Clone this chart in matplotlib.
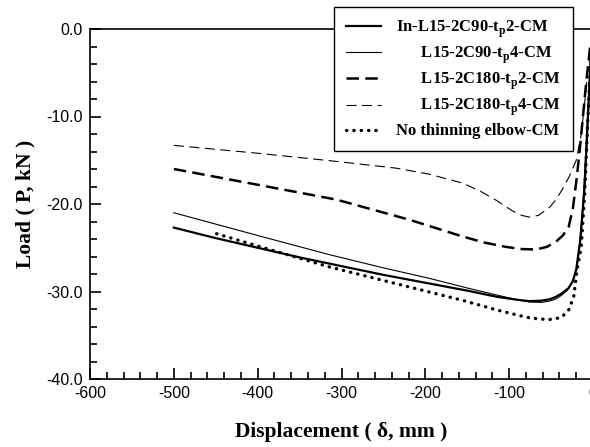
import matplotlib
matplotlib.use("Agg")
import matplotlib.pyplot as plt
from matplotlib.ticker import MultipleLocator, FormatStrFormatter

plt.rcParams["axes.unicode_minus"] = False

x_in_c90_t2 = [-500, -450, -400, -350, -300, -250, -200, -150, -115, -90, -76, -62, -52, -44, -37, -29, -24, -20, -15, -10, -6, -3, 0]
y_in_c90_t2 = [-22.7, -23.9, -25.0, -26.1, -27.1, -28.1, -29.0, -29.9, -30.6, -30.95, -31.1, -31.05, -30.9, -30.6, -30.2, -29.6, -28.8, -27.5, -24.0, -18.0, -10.0, -4.0, 0.0]

x_c90_t4 = [-500, -400, -314, -250, -195, -150, -115, -90, -76, -62, -52, -44, -37, -30, -25, -20, -17, -12, -8, -4, 0]
y_c90_t4 = [-21.0, -23.6, -25.8, -27.3, -28.5, -29.6, -30.4, -30.95, -31.2, -31.25, -31.1, -30.85, -30.4, -29.8, -29.0, -27.5, -25.6, -20.0, -13.0, -5.0, 0.0]

x_c180_t2 = [-500, -400, -306, -219, -156, -130, -104, -85, -68, -55, -44, -36, -29, -24, -20, -16, -12, -8, -4, 0]
y_c180_t2 = [-16.0, -17.8, -19.5, -21.8, -23.7, -24.4, -24.9, -25.15, -25.2, -24.9, -24.3, -23.6, -22.6, -20.5, -17.5, -14.0, -10.0, -6.0, -2.5, 0.0]

x_c180_t4 = [-500, -400, -314, -235, -195, -156, -135, -115, -96, -85, -76, -65, -52, -45, -37, -28, -20, -14, -10, -6, -3, 0]
y_c180_t4 = [-13.3, -14.2, -15.05, -15.9, -16.6, -17.6, -18.5, -19.6, -20.8, -21.3, -21.5, -21.3, -20.4, -19.6, -18.4, -16.8, -15.0, -12.0, -8.5, -4.5, -2.0, 0.0]

x_nothin = [-449, -400, -350, -314, -235, -156, -115, -90, -76, -63, -52, -44, -37, -29, -23, -19, -14, -10, -6, -3, 0]
y_nothin = [-23.4, -24.8, -26.2, -27.2, -29.1, -31.0, -32.1, -32.7, -33.0, -33.15, -33.2, -33.1, -32.9, -32.1, -30.6, -27.5, -24.9, -19.0, -10.0, -4.0, 0.0]

labels = [r"In-L15-2C90-t$_\mathregular{p}$2-CM",
          r"      L15-2C90-t$_\mathregular{p}$4-CM",
          r"      L15-2C180-t$_\mathregular{p}$2-CM",
          r"      L15-2C180-t$_\mathregular{p}$4-CM",
          "No thinning elbow-CM"]

fig = plt.figure(figsize=(5.9, 4.47), dpi=100)
ax = fig.add_axes([90 / 590, 68 / 447, 503 / 590, 350 / 447])

ax.plot(x_in_c90_t2, y_in_c90_t2, color="black", lw=1.6, label=labels[0])
ax.plot(x_c90_t4, y_c90_t4, color="black", lw=0.8, label=labels[1])
ax.plot(x_c180_t2, y_c180_t2, color="black", lw=1.8, ls=(0, (5, 2.5)), label=labels[2])
ax.plot(x_c180_t4, y_c180_t4, color="black", lw=0.8, ls=(0, (9, 5)), label=labels[3])
ax.plot(x_nothin, y_nothin, color="black", lw=2.4, ls=(0, (0.1, 2.1)),
        dash_capstyle="round", label=labels[4])

ax.set_xlim(-600, 0)
ax.set_ylim(-40, 0)
ax.xaxis.set_major_locator(MultipleLocator(100))
ax.xaxis.set_minor_locator(MultipleLocator(20))
ax.yaxis.set_major_locator(MultipleLocator(10))
ax.yaxis.set_minor_locator(MultipleLocator(2))
ax.yaxis.set_major_formatter(FormatStrFormatter("%.1f"))
ax.tick_params(which="both", direction="in", top=False, right=False, width=1.2)
ax.tick_params(which="major", length=8, labelsize=11.5, pad=5)
ax.tick_params(which="minor", length=5)
for lab in ax.get_xticklabels() + ax.get_yticklabels():
    lab.set_family("Liberation Sans")
for sp in ax.spines.values():
    sp.set_linewidth(1.2)

ax.set_xlabel("Displacement ( \u03b4, mm )", family="Liberation Serif",
              fontweight="bold", fontsize=15.5, labelpad=15)
ax.set_ylabel("Load ( P, kN )", family="Liberation Serif",
              fontweight="bold", fontsize=15.5, labelpad=8)

leg = fig.legend(loc="upper left", bbox_to_anchor=(334 / 590, 1 - 7 / 447),
                 prop={"family": "Liberation Serif", "weight": "bold", "size": 12},
                 frameon=True, fancybox=False, framealpha=1, edgecolor="black",
                 handlelength=2.1, labelspacing=0.3, borderpad=0.7, handletextpad=0.95,
                 borderaxespad=0)
leg.get_frame().set_linewidth(1.0)

fig.savefig("out.png", dpi=100)
